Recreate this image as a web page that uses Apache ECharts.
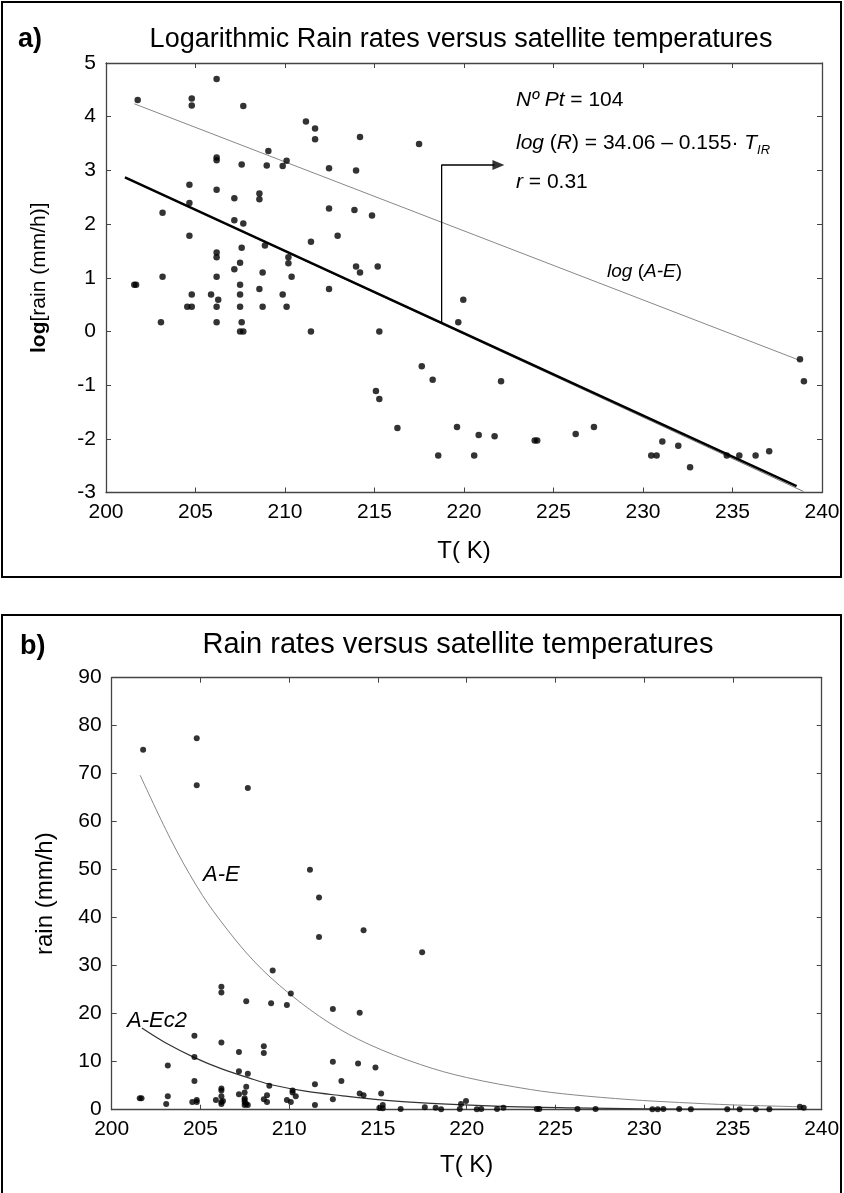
<!DOCTYPE html>
<html><head><meta charset="utf-8">
<script src="https://cdn.jsdelivr.net/npm/echarts@6/dist/echarts.min.js"></script>
<style>html,body{margin:0;padding:0;background:#fff}#c{width:844px;height:1193px}</style>
</head><body><div id="c"></div>
<script>
// ---- Panel a) : log rain vs T ----
const tA = [201.58,201.68,201.77,203.07,203.16,203.16,204.54,204.66,204.66,204.66,204.79,204.79,204.79,204.79,205.87,206.18,206.18,206.18,206.18,206.18,206.18,206.18,206.18,206.18,206.27,207.17,207.17,207.17,207.49,207.49,207.49,207.49,207.49,207.58,207.58,207.58,207.67,207.67,207.67,208.57,208.57,208.57,208.75,208.75,208.88,208.98,209.07,209.87,209.87,210.09,210.09,210.19,210.19,210.37,211.17,211.45,211.45,211.68,211.68,212.46,212.46,212.46,212.94,213.88,213.97,213.97,214.19,214.19,214.86,215.08,215.18,215.27,215.27,216.28,217.49,217.64,218.25,218.56,219.61,219.68,219.96,220.57,220.82,221.71,222.07,223.95,224.09,226.24,227.26,230.46,230.76,231.08,231.97,232.63,234.68,235.38,236.29,237.05,238.77,238.99];
const logRain = [0.87,0.87,4.31,0.17,2.21,1.02,0.46,2.73,2.39,1.78,4.34,4.21,0.69,0.46,0.69,4.70,3.24,3.19,2.64,1.47,1.38,1.02,0.46,0.17,0.59,2.48,2.07,1.16,1.28,0.87,0.69,0.46,0.0,3.11,1.56,0.17,4.20,2.01,0.0,2.57,2.46,0.79,1.10,0.46,1.60,3.09,3.36,3.08,0.69,3.18,0.46,1.38,1.27,1.02,3.91,1.67,0.0,3.78,3.58,3.04,2.29,0.79,1.78,2.26,3.00,1.21,3.62,1.10,2.16,-1.11,1.21,0.0,-1.26,-1.80,3.49,-0.65,-0.90,-2.31,-1.78,0.17,0.59,-2.31,-1.93,-1.95,-0.93,-2.03,-2.03,-1.91,-1.78,-2.31,-2.31,-2.05,-2.13,-2.53,-2.31,-2.31,-2.31,-2.23,-0.52,-0.93];
// fitted lines (end points)
const regT = [201.06, 238.58];
const regV = [2.87, -2.88];
const regThinT = [201.06, 238.96];
const regThinV = [2.87, -2.98];
const aeLogT = [201.58, 238.77];
const aeLogV = [4.24, -0.54];
const arrowT = [218.75, 218.75, 221.7];
const arrowV = [0.16, 3.10, 3.10];

// ---- Panel b) : rain vs T ----
const tB = [201.58,201.68,201.77,203.07,203.16,203.16,204.54,204.66,204.66,204.66,204.79,204.79,204.79,204.79,205.87,206.18,206.18,206.18,206.18,206.18,206.18,206.18,206.18,206.27,207.17,207.17,207.17,207.49,207.49,207.49,207.49,207.49,207.58,207.58,207.58,207.67,207.67,207.67,208.57,208.57,208.57,208.75,208.75,208.88,208.98,209.07,209.87,209.87,210.09,210.09,210.19,210.19,210.37,211.17,211.45,211.45,211.68,211.68,212.46,212.46,212.46,212.94,213.88,213.97,213.97,214.19,214.19,214.86,215.08,215.18,215.27,215.27,216.28,217.49,217.64,218.25,218.56,219.61,219.68,219.96,220.57,220.82,221.71,222.07,223.95,224.09,226.24,227.26,230.46,230.76,231.08,231.97,232.63,234.68,235.38,236.29,237.05,238.77,238.99];
const rain = [2.4,2.4,75.0,1.2,9.2,2.8,1.6,15.4,11.0,6.0,77.4,67.6,2.0,1.6,2.0,25.6,24.4,14.0,4.4,4.0,2.8,1.6,1.2,1.8,12.0,8.0,3.2,3.6,2.4,2.0,1.6,1.0,22.6,4.8,1.2,67.0,7.5,1.0,13.2,11.8,2.2,3.0,1.6,5.0,22.2,29.0,21.8,2.0,24.2,1.6,4.0,3.6,2.8,50.0,5.3,1.0,44.2,36.0,21.0,10.0,2.2,6.0,9.6,20.2,3.4,37.4,3.0,8.8,0.35,3.4,1.0,0.3,0.17,32.8,0.5,0.4,0.1,0.17,1.2,1.8,0.1,0.15,0.15,0.4,0.13,0.13,0.15,0.17,0.1,0.1,0.13,0.12,0.08,0.1,0.1,0.1,0.11,0.6,0.4];
const aeT = [201.6,203.3,204.8,206.1,208.0,210.0,212.3,214.5,217.4,220.0,223.6,226.0,229.2,232.0,235.0,239.0];
const aeV = [69.7,56.5,46.5,39.5,31.0,24.2,18.0,13.6,9.4,6.7,4.2,3.1,2.1,1.5,1.0,0.6];
const aec2T = [201.7,203.0,204.7,206.2,208.0,209.0,211.0,213.0,215.0,218.0,222.0,226.0,230.0,235.0,239.0];
const aec2V = [17.0,14.0,10.8,8.5,6.3,5.2,3.8,2.9,2.1,1.3,0.7,0.4,0.2,0.1,0.05];

const zip = (a, b) => a.map((v, i) => [v, b[i]]);
const FONT = 'Liberation Sans, Arial, sans-serif';
const axisCol = '#444';

function xAx(grid, pos, labels, name, gap) {
  return {
    gridIndex: grid, type: 'value', min: 200, max: 240, interval: 5, position: pos,
    axisLine: { show: true, onZero: false, lineStyle: { color: axisCol, width: 1.3 } },
    axisTick: { show: true, inside: true, length: 5, lineStyle: { color: axisCol } },
    splitLine: { show: false },
    axisLabel: { show: labels, fontSize: 21, color: '#000', fontFamily: FONT, margin: 9 },
    name: name || '', nameLocation: 'middle', nameGap: gap || 45,
    nameTextStyle: { fontSize: 24, color: '#000', fontFamily: FONT }
  };
}
function yAx(grid, pos, labels, min, max, interval, name, gap, fs, rich) {
  return {
    gridIndex: grid, type: 'value', min: min, max: max, interval: interval, position: pos,
    axisLine: { show: true, onZero: false, lineStyle: { color: axisCol, width: 1.3 } },
    axisTick: { show: true, inside: true, length: 5, lineStyle: { color: axisCol } },
    splitLine: { show: false },
    axisLabel: { show: labels, fontSize: 21, color: '#000', fontFamily: FONT, margin: 10 },
    name: name || '', nameLocation: 'middle', nameGap: gap || 50,
    nameTextStyle: { fontSize: fs || 20, color: '#000', fontFamily: FONT, rich: rich || {} }
  };
}

const chart = echarts.init(document.getElementById('c'));
chart.setOption({
  animation: false,
  backgroundColor: '#fff',
  grid: [
    { left: 106, top: 63, width: 716, height: 429.5 },
    { left: 111.7, top: 677.7, width: 710, height: 432 }
  ],
  xAxis: [
    xAx(0, 'bottom', true, 'T( K)', 47), xAx(0, 'top', false),
    xAx(1, 'bottom', true, 'T( K)', 44), xAx(1, 'top', false)
  ],
  yAxis: [
    yAx(0, 'left', true, -3, 5, 1, '{b|log}[rain (mm/h)]', 56, 21, { b: { fontWeight: 'bold', fontSize: 21, fontFamily: FONT } }),
    yAx(0, 'right', false, -3, 5, 1),
    yAx(1, 'left', true, 0, 90, 10, 'rain (mm/h)', 54, 24),
    yAx(1, 'right', false, 0, 90, 10)
  ],
  series: [
    { type: 'line', xAxisIndex: 0, yAxisIndex: 0, data: zip(aeLogT, aeLogV), symbol: 'none', lineStyle: { color: '#888', width: 1 }, z: 2 },
    { type: 'line', xAxisIndex: 0, yAxisIndex: 0, data: zip(regThinT, regThinV), symbol: 'none', lineStyle: { color: '#777', width: 1 }, z: 2 },
    { type: 'line', xAxisIndex: 0, yAxisIndex: 0, data: zip(regT, regV), symbol: 'none', lineStyle: { color: '#000', width: 2.5 }, z: 3 },
    { type: 'line', xAxisIndex: 0, yAxisIndex: 0, data: zip(arrowT, arrowV), symbol: 'none', lineStyle: { color: '#000', width: 1.3 }, z: 3 },
    { type: 'scatter', xAxisIndex: 0, yAxisIndex: 0, data: [[arrowT[2], arrowV[2]]], symbol: 'triangle', symbolSize: [10, 12], symbolRotate: -90, symbolOffset: [4, 0], itemStyle: { color: '#000' }, z: 4 },
    { type: 'scatter', xAxisIndex: 0, yAxisIndex: 0, data: zip(tA, logRain), symbol: 'circle', symbolSize: 6.5, itemStyle: { color: '#000' }, z: 5 },

    { type: 'line', xAxisIndex: 2, yAxisIndex: 2, data: zip(aeT, aeV), smooth: 0.35, symbol: 'none', lineStyle: { color: '#888', width: 1 }, z: 2 },
    { type: 'line', xAxisIndex: 2, yAxisIndex: 2, data: zip(aec2T, aec2V), smooth: 0.35, symbol: 'none', lineStyle: { color: '#333', width: 1.2 }, z: 2 },
    { type: 'scatter', xAxisIndex: 2, yAxisIndex: 2, data: zip(tB, rain), symbol: 'circle', symbolSize: 6, itemStyle: { color: '#000' }, z: 5 }
  ],
  graphic: [
    { type: 'rect', shape: { x: 2, y: 2, width: 839, height: 575 }, style: { fill: 'none', stroke: '#000', lineWidth: 2 }, silent: true },
    { type: 'rect', shape: { x: 2, y: 615, width: 839, height: 590 }, style: { fill: 'none', stroke: '#000', lineWidth: 2 }, silent: true },
    { type: 'text', x: 18, y: 40, style: { text: 'a)', font: 'bold 27px ' + FONT, fill: '#000', verticalAlign: 'middle' } },
    { type: 'text', x: 461, y: 40, style: { text: 'Logarithmic Rain rates versus satellite temperatures', font: '27px ' + FONT, fill: '#000', align: 'center', verticalAlign: 'middle' } },
    { type: 'text', x: 20, y: 647, style: { text: 'b)', font: 'bold 27px ' + FONT, fill: '#000', verticalAlign: 'middle' } },
    { type: 'text', x: 458, y: 645, style: { text: 'Rain rates versus satellite temperatures', font: '29px ' + FONT, fill: '#000', align: 'center', verticalAlign: 'middle' } },
    { type: 'text', x: 516, y: 100, style: { text: '{i|Nº Pt} = 104', font: '21px ' + FONT, fill: '#000', verticalAlign: 'middle', rich: { i: { fontStyle: 'italic', fontSize: 21, fontFamily: FONT } } } },
    { type: 'text', x: 516, y: 143, style: { text: '{i|log} ({i|R}) = 34.06 – 0.155· {i|T}{s|IR}', font: '21px ' + FONT, fill: '#000', verticalAlign: 'middle', rich: { i: { fontStyle: 'italic', fontSize: 21, fontFamily: FONT }, s: { fontStyle: 'italic', fontSize: 13, fontFamily: FONT, padding: [14, 0, 0, 0] } } } },
    { type: 'text', x: 516, y: 182, style: { text: '{i|r} = 0.31', font: '21px ' + FONT, fill: '#000', verticalAlign: 'middle', rich: { i: { fontStyle: 'italic', fontSize: 21, fontFamily: FONT } } } },
    { type: 'text', x: 607, y: 272, style: { text: '{i|log} ({i|A-E})', font: '19px ' + FONT, fill: '#000', verticalAlign: 'middle', rich: { i: { fontStyle: 'italic', fontSize: 19, fontFamily: FONT } } } },
    { type: 'text', x: 203, y: 875, style: { text: 'A-E', font: 'italic 22px ' + FONT, fill: '#000', verticalAlign: 'middle' } },
    { type: 'text', x: 127, y: 1021, style: { text: 'A-Ec2', font: 'italic 22px ' + FONT, fill: '#000', verticalAlign: 'middle' } }
  ]
});
</script></body></html>
